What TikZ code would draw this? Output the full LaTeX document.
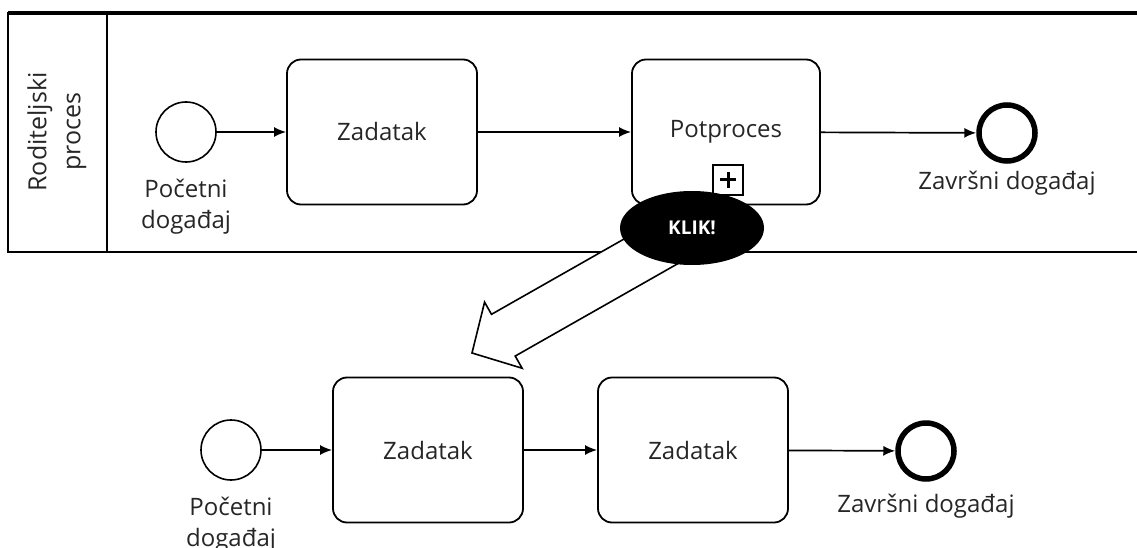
\documentclass[tikz,border=0pt]{standalone}
\usepackage{fontspec}
\setmainfont{Open Sans}
\usetikzlibrary{arrows.meta,positioning,calc,shapes.geometric}
\begin{document}
\begin{tikzpicture}[x=1pt,y=-1pt,
    txt/.style={font=\fontsize{24}{31}\selectfont, text=black!85},
    task/.style={draw, rounded corners=14pt, line width=1.8pt, minimum width=190pt, minimum height=145pt, txt},
    startev/.style={draw, circle, line width=1.6pt, minimum size=60pt, inner sep=0pt},
    endev/.style={draw, circle, line width=5.5pt, minimum size=56pt, inner sep=0pt},
    evlabel/.style={txt, align=center, inner sep=0pt},
    flow/.style={-{Latex[length=12pt,width=10pt]}, line width=1.7pt},
  ]
	\useasboundingbox (0,0) rectangle (1137,548);
	% pool
	\draw[line width=3.5pt] (8,13) -- (1137,13);
	\draw[line width=2pt] (8,12) -- (8,252) -- (1137,252);
	\draw[line width=1.8pt] (107,13) -- (107,252);
	\node[txt, rotate=90, align=center, font=\fontsize{25}{34}\selectfont] (lane) at (57,132) {Roditeljski\\proces};
	% parent process
	\node[startev] (start1) at (186,132) {};
	\node[task] (task1) at (382,132) {Zadatak};
	\node[task, minimum width=188pt] (sub) at (726,132) {Potproces};
	\node[endev] (end1) at (1007,133) {};
	\node[evlabel, below=16pt of start1] (start1lbl) {Početni\\događaj};
	\node[evlabel, below=7pt of end1] (end1lbl) {Završni događaj};
	\draw[flow] (start1) -- (task1);
	\draw[flow] (task1) -- (sub);
	\draw[flow] (sub) -- (end1);
	\node[draw, line width=1.5pt, minimum size=30pt, inner sep=0pt] (marker) at (728,180) {};
	\draw[line width=3pt] ($(marker.center)+(-8,0)$) -- ($(marker.center)+(8,0)$);
	\draw[line width=3pt] ($(marker.center)+(0,-8)$) -- ($(marker.center)+(0,8)$);
	% big arrow
	\coordinate (klikc) at (692,228);
	\coordinate (arrtip) at (472,353);
	\coordinate (arrneck) at ($(klikc)!217pt!(arrtip)$);
	\draw[line width=1.6pt, fill=white]
	  ($(klikc)!24pt!90:(arrtip)$) -- ($(arrneck)!24pt!90:(arrtip)$)
	  -- ($(arrneck)!38pt!90:(arrtip)$) -- (arrtip)
	  -- ($(arrneck)!38pt!-90:(arrtip)$) -- ($(arrneck)!24pt!-90:(arrtip)$)
	  -- ($(klikc)!24pt!-90:(arrtip)$);
	\node[ellipse, fill=black, minimum width=144pt, minimum height=74pt, inner sep=0pt,
	  text=white, font=\bfseries\fontsize{19}{20}\selectfont] (klik) at (klikc) {KLIK!};
	% subprocess
	\node[startev] (start2) at (231,450) {};
	\node[task] (task2) at (428,450) {Zadatak};
	\node[task] (task3) at (693,450) {Zadatak};
	\node[endev] (end2) at (926,451) {};
	\node[evlabel, below=16pt of start2] (start2lbl) {Početni\\događaj};
	\node[evlabel, below=12pt of end2] (end2lbl) {Završni događaj};
	\draw[flow] (start2) -- (task2);
	\draw[flow] (task2) -- (task3);
	\draw[flow] (task3) -- (end2);
\end{tikzpicture}
\end{document}
